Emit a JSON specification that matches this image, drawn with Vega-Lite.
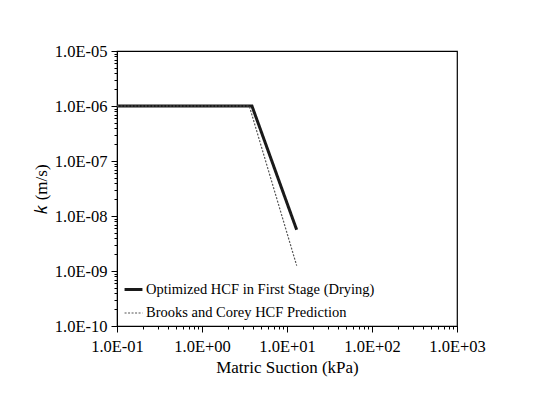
{
  "$schema": "https://vega.github.io/schema/vega-lite/v6.json",
  "autosize": {"type": "none"},
  "width": 340,
  "height": 275,
  "padding": {"left": 117, "top": 51, "right": 85, "bottom": 83},
  "background": "white",
  "config": {
    "font": "Liberation Serif",
    "view": {"stroke": "black", "strokeWidth": 1.2},
    "style": {"guide-label": {"font": "Liberation Serif"}, "guide-title": {"font": "Liberation Serif"}},
    "axis": {
      "domainColor": "black",
      "tickColor": "black",
      "labelColor": "black",
      "titleColor": "black",
      "labelFont": "Liberation Serif",
      "titleFont": "Liberation Serif",
      "labelFontSize": 16.5,
      "titleFontSize": 17,
      "titleFontWeight": "normal",
      "grid": false
    }
  },
  "data": {
    "values": [
      {"series": "Optimized HCF in First Stage (Drying)", "suction": 0.1, "k": 1e-6},
      {"series": "Optimized HCF in First Stage (Drying)", "suction": 3.87, "k": 1e-6},
      {"series": "Optimized HCF in First Stage (Drying)", "suction": 13.0, "k": 5.6e-9},
      {"series": "Brooks and Corey HCF Prediction", "suction": 0.1, "k": 1e-6},
      {"series": "Brooks and Corey HCF Prediction", "suction": 3.6, "k": 1e-6},
      {"series": "Brooks and Corey HCF Prediction", "suction": 13.0, "k": 1.25e-9}
    ]
  },
  "mark": {"type": "line", "strokeCap": "butt", "strokeJoin": "miter", "clip": true},
  "encoding": {
    "x": {
      "field": "suction",
      "type": "quantitative",
      "scale": {"type": "log", "domain": [0.1, 1000], "nice": false},
      "axis": {
        "title": "Matric Suction (kPa)",
        "labelFont": "Liberation Serif",
        "values": [0.1,0.2,0.3,0.4,0.5,0.6,0.7,0.8,0.9,1,2,3,4,5,6,7,8,9,10,20,30,40,50,60,70,80,90,100,200,300,400,500,600,700,800,900,1000],
        "labelExpr": "abs(log(datum.value)/LN10 - round(log(datum.value)/LN10)) < 1e-6 ? '1.0E' + (round(log(datum.value)/LN10) < 0 ? '-' : '+') + (abs(round(log(datum.value)/LN10)) < 10 ? '0' : '') + abs(round(log(datum.value)/LN10)) : ''",
        "tickSize": {"condition": {"test": "abs(log(datum.value)/LN10 - round(log(datum.value)/LN10)) < 1e-6", "value": 6}, "value": 3},
        "labelPadding": 6,
        "titlePadding": 5,
        "labelFlush": false,
        "labelOverlap": false
      }
    },
    "y": {
      "field": "k",
      "type": "quantitative",
      "scale": {"type": "log", "domain": [1e-10, 1e-5], "nice": false},
      "axis": {
        "title": "𝑘 (m/s)",
        "labelFont": "Liberation Serif",
        "values": [1e-10,2e-10,3e-10,4e-10,5e-10,6e-10,7e-10,8e-10,9e-10,1e-9,2e-9,3e-9,4e-9,5e-9,6e-9,7e-9,8e-9,9e-9,1e-8,2e-8,3e-8,4e-8,5e-8,6e-8,7e-8,8e-8,9e-8,1e-7,2e-7,3e-7,4e-7,5e-7,6e-7,7e-7,8e-7,9e-7,1e-6,2e-6,3e-6,4e-6,5e-6,6e-6,7e-6,8e-6,9e-6,1e-5],
        "labelExpr": "abs(log(datum.value)/LN10 - round(log(datum.value)/LN10)) < 1e-6 ? '1.0E' + (round(log(datum.value)/LN10) < 0 ? '-' : '+') + (abs(round(log(datum.value)/LN10)) < 10 ? '0' : '') + abs(round(log(datum.value)/LN10)) : ''",
        "tickSize": {"condition": {"test": "abs(log(datum.value)/LN10 - round(log(datum.value)/LN10)) < 1e-6", "value": 6}, "value": 3},
        "labelPadding": 4,
        "titlePadding": 4,
        "labelFlush": false,
        "labelOverlap": false
      }
    },
    "color": {
      "field": "series",
      "type": "nominal",
      "sort": ["Optimized HCF in First Stage (Drying)", "Brooks and Corey HCF Prediction"],
      "scale": {"domain": ["Optimized HCF in First Stage (Drying)", "Brooks and Corey HCF Prediction"], "range": ["#1a1a1a", "#555555"]},
      "legend": {
        "title": null,
        "orient": "bottom-left",
        "offset": 6,
        "symbolType": "stroke",
        "symbolSize": 320,
        "labelFont": "Liberation Serif",
        "labelFontSize": 14.5,
        "labelColor": "black",
        "labelLimit": 0,
        "rowPadding": 7,
        "labelOffset": 2
      }
    },
    "strokeDash": {
      "field": "series",
      "type": "nominal",
      "scale": {"domain": ["Optimized HCF in First Stage (Drying)", "Brooks and Corey HCF Prediction"], "range": [[1, 0], [2, 1.5]]}
    },
    "strokeWidth": {
      "field": "series",
      "type": "nominal",
      "scale": {"domain": ["Optimized HCF in First Stage (Drying)", "Brooks and Corey HCF Prediction"], "range": [3, 1.2]}
    },
    "order": {"field": "suction", "type": "quantitative"}
  }
}
